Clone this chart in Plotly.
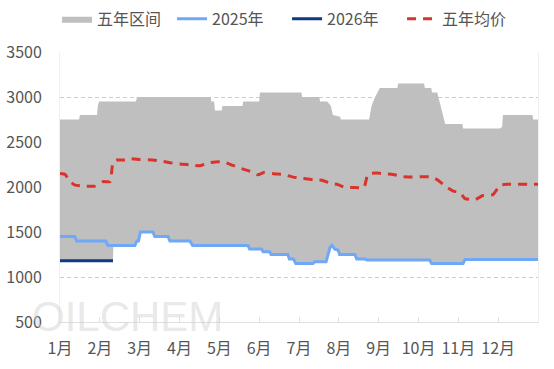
import plotly.graph_objects as go

# ---- data (x in month units: 0 = start of 1月, 12 = end of 12月) ----
month_labels = ["1月", "2月", "3月", "4月", "5月", "6月", "7月", "8月", "9月", "10月", "11月", "12月"]
month_ticks = list(range(13))

band_hi_x = [0, 0.48, 0.50, 0.93, 0.95, 0.98, 1.91, 1.93, 3.78, 3.80,
             3.87, 3.89, 4.06, 4.08, 4.58, 4.60, 5.00, 5.02, 6.06, 6.08,
             6.51, 6.53, 6.71, 6.80, 6.85, 7.03, 7.05, 7.76, 7.82, 7.90,
             8.03, 8.47, 8.49, 9.14, 9.16, 9.32, 9.34, 9.47, 9.67, 10.10,
             10.12, 11.05, 11.10, 11.12, 11.86, 11.88, 12.0]
band_hi_y = [2750, 2750, 2800, 2800, 2900, 2950, 2950, 3000, 3000, 2950,
             2950, 2850, 2850, 2900, 2900, 2950, 2950, 3050, 3050, 3000,
             3000, 2950, 2950, 2900, 2800, 2780, 2750, 2750, 2900, 2990,
             3100, 3100, 3150, 3150, 3100, 3100, 3050, 3050, 2700, 2700,
             2650, 2650, 2670, 2800, 2800, 2750, 2750]

band_lo_x = [0, 1.33, 1.34, 1.88, 1.93, 1.97, 2.02, 2.33, 2.38, 2.71,
             2.76, 3.26, 3.33, 4.72, 4.76, 5.06, 5.10, 5.26, 5.30, 5.72,
             5.76, 5.86, 5.92, 6.35, 6.40, 6.68, 6.78, 6.83, 6.90, 6.98,
             7.02, 7.40, 7.45, 7.65, 7.70, 9.28, 9.33, 10.12, 10.17, 12.0]
band_lo_y = [1180, 1180, 1350, 1350, 1400, 1400, 1500, 1500, 1450, 1450,
             1400, 1400, 1350, 1350, 1310, 1310, 1280, 1280, 1250, 1250,
             1200, 1200, 1150, 1150, 1170, 1170, 1330, 1350, 1310, 1300,
             1250, 1250, 1200, 1200, 1190, 1190, 1150, 1150, 1195, 1195]

y2025_x = [0, 0.37, 0.42, 1.15, 1.20, 1.88, 1.93, 1.97, 2.02, 2.33,
           2.38, 2.71, 2.76, 3.26, 3.33, 4.72, 4.76, 5.06, 5.10, 5.26,
           5.30, 5.72, 5.76, 5.86, 5.92, 6.35, 6.40, 6.68, 6.78, 6.83,
           6.90, 6.98, 7.02, 7.40, 7.45, 7.65, 7.70, 9.28, 9.33, 10.12,
           10.17, 12.0]
y2025_y = [1450, 1450, 1400, 1400, 1350, 1350, 1400, 1400, 1500, 1500,
           1450, 1450, 1400, 1400, 1350, 1350, 1310, 1310, 1280, 1280,
           1250, 1250, 1200, 1200, 1150, 1150, 1170, 1170, 1330, 1350,
           1310, 1300, 1250, 1250, 1200, 1200, 1190, 1190, 1150, 1150,
           1195, 1195]

y2026_x = [0, 0.5, 1.0, 1.33]
y2026_y = [1180, 1180, 1180, 1180]

avg_x = [0, 0.13, 0.25, 0.38, 0.63, 0.88, 1.00, 1.08, 1.26, 1.33,
         1.43, 1.63, 1.78, 2.01, 2.33, 2.51, 2.76, 3.01, 3.31, 3.51,
         3.69, 3.97, 4.17, 4.34, 4.52, 4.77, 4.97, 5.12, 5.40, 5.60,
         5.85, 6.03, 6.35, 6.58, 6.78, 6.95, 7.16, 7.41, 7.63, 7.71,
         7.78, 7.96, 8.16, 8.36, 8.59, 8.84, 9.09, 9.34, 9.49, 9.67,
         9.87, 10.04, 10.17, 10.42, 10.62, 10.87, 11.05, 11.22, 12.0]
avg_y = [2150, 2140, 2060, 2020, 2010, 2010, 2040, 2060, 2060, 2280,
         2300, 2300, 2315, 2305, 2300, 2290, 2270, 2255, 2245, 2235,
         2265, 2280, 2270, 2240, 2210, 2175, 2135, 2160, 2145, 2140,
         2110, 2100, 2080, 2075, 2040, 2030, 1995, 1995, 1990, 2120,
         2150, 2155, 2145, 2140, 2115, 2110, 2115, 2110, 2075, 2010,
         1955, 1940, 1870, 1860, 1905, 1915, 2020, 2030, 2030]

FONT = "Noto Sans CJK SC, Microsoft YaHei, sans-serif"
TXT = "#555555"

fig = go.Figure()

fig.add_trace(go.Scatter(
    x=band_hi_x + band_lo_x[::-1],
    y=band_hi_y + band_lo_y[::-1],
    fill="toself", fillcolor="#bfbfbf",
    line=dict(width=0, color="#bfbfbf"),
    mode="lines", name="五年区间", hoverinfo="skip"))

fig.add_trace(go.Scatter(
    x=y2025_x, y=y2025_y, mode="lines", name="2025年",
    line=dict(color="#6fa8f7", width=3)))

fig.add_trace(go.Scatter(
    x=y2026_x, y=y2026_y, mode="lines", name="2026年",
    line=dict(color="#0d3a80", width=3)))

fig.add_trace(go.Scatter(
    x=avg_x, y=avg_y, mode="lines", name="五年均价",
    line=dict(color="#d9342b", width=3, dash="9px,7px", shape="spline", smoothing=0.4)))

fig.add_annotation(
    text="OILCHEM", x=-0.063, y=0.022, xref="paper", yref="paper",
    showarrow=False, font=dict(family="Liberation Sans", size=42, color="rgba(205,205,205,0.45)"),
    xanchor="left", yanchor="middle")

fig.update_layout(
    width=554, height=369,
    margin=dict(l=60, r=16, t=52, b=47, autoexpand=False),
    paper_bgcolor="white", plot_bgcolor="white",
    font=dict(family=FONT, size=16, color=TXT),
    showlegend=True,
    legend=dict(orientation="h", x=0.103, xanchor="left", xref="container",
                yref="container", y=0.995, yanchor="top",
                font=dict(family=FONT, size=16, color=TXT),
                entrywidth=70, entrywidthmode="pixels",
                itemwidth=30, tracegroupgap=0),
    xaxis=dict(range=[0, 12], tickmode="array", tickvals=month_ticks,
               ticktext=month_labels + [""], showgrid=False, zeroline=False,
               showline=True, linecolor="#e0e0e0", linewidth=1,
               ticks="inside", ticklen=5, tickcolor="#e0e0e0",
               ticklabelstandoff=12,
               tickfont=dict(family=FONT, size=16, color=TXT)),
    yaxis=dict(range=[500, 3500], tickvals=[500, 1000, 1500, 2000, 2500, 3000, 3500],
               showgrid=True, gridcolor="#cccccc", griddash="4px,3px", gridwidth=1,
               zeroline=False, showline=True, mirror=True, linecolor="#f0f0f0",
               ticks="", ticklabelstandoff=14,
               tickfont=dict(family=FONT, size=16, color=TXT)),
)

fig.write_html("out.html", config={"displayModeBar": False},
               post_script="document.body.style.margin='0';")
